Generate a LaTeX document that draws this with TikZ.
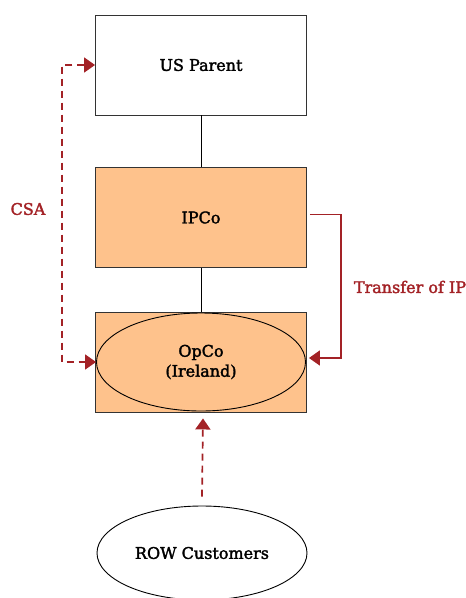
\documentclass[tikz,border=0pt]{standalone}
\usepackage{fontspec}
\setmainfont{DejaVu Serif}[BoldFont=DejaVu Serif, BoldFeatures={FakeBold=2}]
\usetikzlibrary{arrows.meta,shapes.geometric}
\definecolor{flowred}{HTML}{A32226}
\definecolor{entityfill}{HTML}{FEC28C}
\tikzset{
  flowtip/.tip={Triangle[length=11pt, width=15pt, fill=flowred]},
  labelfont/.style={font=\fontsize{16}{20}\selectfont\bfseries},
  entity/.style={draw=black!80, line width=0.9pt, minimum width=211pt, minimum height=100pt, inner sep=0pt, labelfont},
  oval/.style={ellipse, draw=black, line width=0.9pt, inner sep=0pt, labelfont, align=center},
  link/.style={draw=black, line width=0.9pt},
  flow/.style={draw=flowred, line width=1.7pt},
  flowdash/.style={flow, dash pattern=on 7pt off 5pt},
  flowlabel/.style={text=flowred, labelfont}
}
\begin{document}
\begin{tikzpicture}[x=1pt, y=-1pt]
  \useasboundingbox (0,0) rectangle (466,598);

  % ownership chain
  \node[entity] (us) at (201,65) {US Parent};
  \node[entity, fill=entityfill] (ipco) at (201,217.5) {IPCo};
  \node[entity, fill=entityfill] (opcobox) at (201,362) {};
  \node[oval, minimum width=209pt, minimum height=98pt] (opco) at (201,362) {OpCo\\(Ireland)};
  \node[oval, minimum width=210pt, minimum height=94pt] (row) at (202,553) {ROW Customers};

  \draw[link] (us.south) -- (ipco.north);
  \draw[link] (ipco.south) -- (opcobox.north);

  % cost sharing arrangement
  \draw[flowdash, {flowtip}-{flowtip}] (us.west) -- ++(-33,0) |- (opco.west);
  \node[flowlabel] (csa) at (28,209) {CSA};

  % IP transfer
  \draw[flow, -{flowtip}] ([xshift=3pt, yshift=3pt]ipco.east) -- ++(31,0) |- ([xshift=3pt, yshift=4pt]opco.east);
  \node[flowlabel] (tip-label) at (410,287) {Transfer of IP};

  % sales to customers
  \draw[flowdash, -{flowtip}] ([yshift=9pt]row.north) -- ([xshift=2pt, yshift=-6pt]opcobox.south);
\end{tikzpicture}
\end{document}
